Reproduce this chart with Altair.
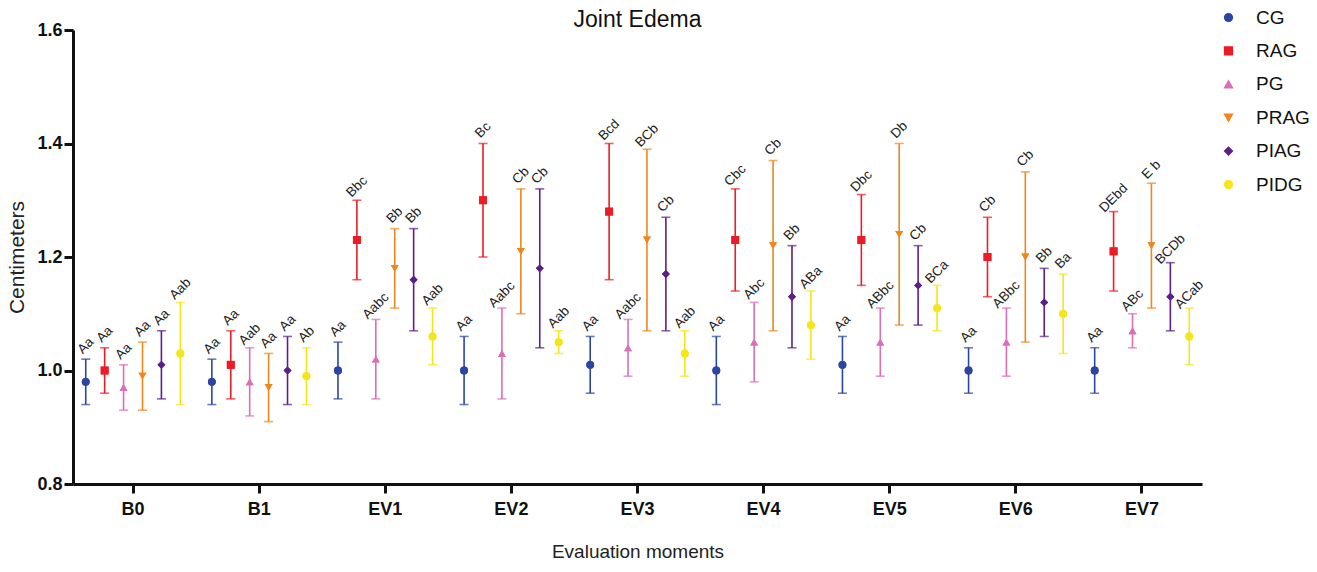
import altair as alt
import pandas as pd

moments = ["B0", "B1", "EV1", "EV2", "EV3", "EV4", "EV5", "EV6", "EV7"]
groups = ["CG", "RAG", "PG", "PRAG", "PIAG", "PIDG"]
colors = ["#2B45A3", "#EC1C24", "#DA6FB8", "#F0861E", "#5C1F8A", "#F5E51B"]
shapes = ["circle", "square", "triangle-up", "triangle-down", "diamond", "circle"]

cg_mean = [0.98, 0.98, 1.00, 1.00, 1.01, 1.00, 1.01, 1.00, 1.00]
cg_low = [0.94, 0.94, 0.95, 0.94, 0.96, 0.94, 0.96, 0.96, 0.96]
cg_high = [1.02, 1.02, 1.05, 1.06, 1.06, 1.06, 1.06, 1.04, 1.04]
cg_lab = ["Aa", "Aa", "Aa", "Aa", "Aa", "Aa", "Aa", "Aa", "Aa"]

rag_mean = [1.00, 1.01, 1.23, 1.30, 1.28, 1.23, 1.23, 1.20, 1.21]
rag_low = [0.96, 0.95, 1.16, 1.20, 1.16, 1.14, 1.15, 1.13, 1.14]
rag_high = [1.04, 1.07, 1.30, 1.40, 1.40, 1.32, 1.31, 1.27, 1.28]
rag_lab = ["Aa", "Aa", "Bbc", "Bc", "Bcd", "Cbc", "Dbc", "Cb", "DEbd"]

pg_mean = [0.97, 0.98, 1.02, 1.03, 1.04, 1.05, 1.05, 1.05, 1.07]
pg_low = [0.93, 0.92, 0.95, 0.95, 0.99, 0.98, 0.99, 0.99, 1.04]
pg_high = [1.01, 1.04, 1.09, 1.11, 1.09, 1.12, 1.11, 1.11, 1.10]
pg_lab = ["Aa", "Aab", "Aabc", "Aabc", "Aabc", "Abc", "ABbc", "ABbc", "ABc"]

prag_mean = [0.99, 0.97, 1.18, 1.21, 1.23, 1.22, 1.24, 1.20, 1.22]
prag_low = [0.93, 0.91, 1.11, 1.10, 1.07, 1.07, 1.08, 1.05, 1.11]
prag_high = [1.05, 1.03, 1.25, 1.32, 1.39, 1.37, 1.40, 1.35, 1.33]
prag_lab = ["Aa", "Aa", "Bb", "Cb", "BCb", "Cb", "Db", "Cb", "E b"]

piag_mean = [1.01, 1.00, 1.16, 1.18, 1.17, 1.13, 1.15, 1.12, 1.13]
piag_low = [0.95, 0.94, 1.07, 1.04, 1.07, 1.04, 1.08, 1.06, 1.07]
piag_high = [1.07, 1.06, 1.25, 1.32, 1.27, 1.22, 1.22, 1.18, 1.19]
piag_lab = ["Aa", "Aa", "Bb", "Cb", "Cb", "Bb", "Cb", "Bb", "BCDb"]

pidg_mean = [1.03, 0.99, 1.06, 1.05, 1.03, 1.08, 1.11, 1.10, 1.06]
pidg_low = [0.94, 0.94, 1.01, 1.03, 0.99, 1.02, 1.07, 1.03, 1.01]
pidg_high = [1.12, 1.04, 1.11, 1.07, 1.07, 1.14, 1.15, 1.17, 1.11]
pidg_lab = ["Aab", "Ab", "Aab", "Aab", "Aab", "ABa", "BCa", "Ba", "ACab"]

series = {
    "CG": (cg_mean, cg_low, cg_high, cg_lab),
    "RAG": (rag_mean, rag_low, rag_high, rag_lab),
    "PG": (pg_mean, pg_low, pg_high, pg_lab),
    "PRAG": (prag_mean, prag_low, prag_high, prag_lab),
    "PIAG": (piag_mean, piag_low, piag_high, piag_lab),
    "PIDG": (pidg_mean, pidg_low, pidg_high, pidg_lab),
}

rows = []
for g in groups:
    m, lo, hi, lab = series[g]
    for i, mo in enumerate(moments):
        rows.append({"moment": mo, "group": g, "mean": m[i], "low": lo[i],
                     "high": hi[i], "label": lab[i]})
df = pd.DataFrame(rows)

FONT = "Liberation Sans"

x_enc = alt.X("moment:N", sort=moments,
              scale=alt.Scale(paddingInner=0.1, paddingOuter=0.026),
              axis=alt.Axis(title="Evaluation moments", labelAngle=0,
                            labelFontWeight="bold", labelFontSize=18,
                            labelFont=FONT, labelColor="#111",
                            tickSize=9, tickWidth=3, tickColor="#111",
                            domainWidth=3, domainColor="#111",
                            labelPadding=7, titlePadding=24,
                            titleFontSize=19, titleFontWeight="normal",
                            titleFont=FONT, titleColor="#222"))
xo_enc = alt.XOffset("group:N", sort=groups,
                     scale=alt.Scale(paddingInner=0, paddingOuter=0))
y_scale = alt.Scale(domain=[0.8, 1.6], nice=False, zero=False)
y_axis = alt.Axis(title="Centimeters", values=[0.8, 1.0, 1.2, 1.4, 1.6],
                  format=".1f", grid=False,
                  labelFontWeight="bold", labelFontSize=18, labelFont=FONT,
                  labelColor="#111", tickSize=9, tickWidth=3, tickColor="#111",
                  domainWidth=3, domainColor="#111", labelPadding=2,
                  titlePadding=9, titleFontSize=21, titleFontWeight="normal",
                  titleFont=FONT, titleColor="#222")

color_scale = alt.Scale(domain=groups, range=colors)
shape_scale = alt.Scale(domain=groups, range=shapes)

legend = alt.Legend(title=None, orient="none", legendX=1146, legendY=-22,
                    labelFontSize=19, labelFont=FONT, labelColor="#111",
                    symbolSize=60, rowPadding=13.4, labelOffset=18)

color_noleg = alt.Color("group:N", sort=groups, scale=color_scale, legend=None)

base = alt.Chart(df)

# first layer carries the legend (drawn again on top later)
points_leg = base.mark_point(filled=True, size=62, opacity=1).encode(
    x=x_enc, xOffset=xo_enc,
    y=alt.Y("mean:Q", scale=y_scale, axis=y_axis),
    color=alt.Color("group:N", sort=groups, scale=color_scale, legend=legend),
    shape=alt.Shape("group:N", sort=groups, scale=shape_scale, legend=legend))

rules = base.mark_rule(strokeWidth=1.6).encode(
    x=x_enc, xOffset=xo_enc,
    y=alt.Y("low:Q", scale=y_scale), y2="high:Q",
    color=color_noleg)

caps_low = base.mark_tick(size=9, thickness=1.6).encode(
    x=x_enc, xOffset=xo_enc, y=alt.Y("low:Q", scale=y_scale), color=color_noleg)
caps_high = base.mark_tick(size=9, thickness=1.6).encode(
    x=x_enc, xOffset=xo_enc, y=alt.Y("high:Q", scale=y_scale), color=color_noleg)

points = base.mark_point(filled=True, size=62, opacity=1).encode(
    x=x_enc, xOffset=xo_enc, y=alt.Y("mean:Q", scale=y_scale),
    color=color_noleg,
    shape=alt.Shape("group:N", sort=groups, scale=shape_scale, legend=None))

labels = base.mark_text(angle=315, align="center", baseline="middle",
                        dx=9.5, dy=-9.5, fontSize=13.5, font=FONT,
                        color="#222").encode(
    x=x_enc, xOffset=xo_enc, y=alt.Y("high:Q", scale=y_scale), text="label:N")

chart = alt.layer(points_leg, rules, caps_low, caps_high, points, labels).properties(
    width=1129, height=454,
    background="white",
    title=alt.TitleParams("Joint Edema", fontSize=23, fontWeight="normal",
                          font=FONT, color="#111", anchor="middle", dy=28),
    autosize=alt.AutoSizeParams(type="none"),
    padding={"left": 65, "top": 22, "right": 107, "bottom": 78},
).configure_view(stroke=None)

chart.save("out.html", embed_options={"renderer": "svg", "actions": False})
